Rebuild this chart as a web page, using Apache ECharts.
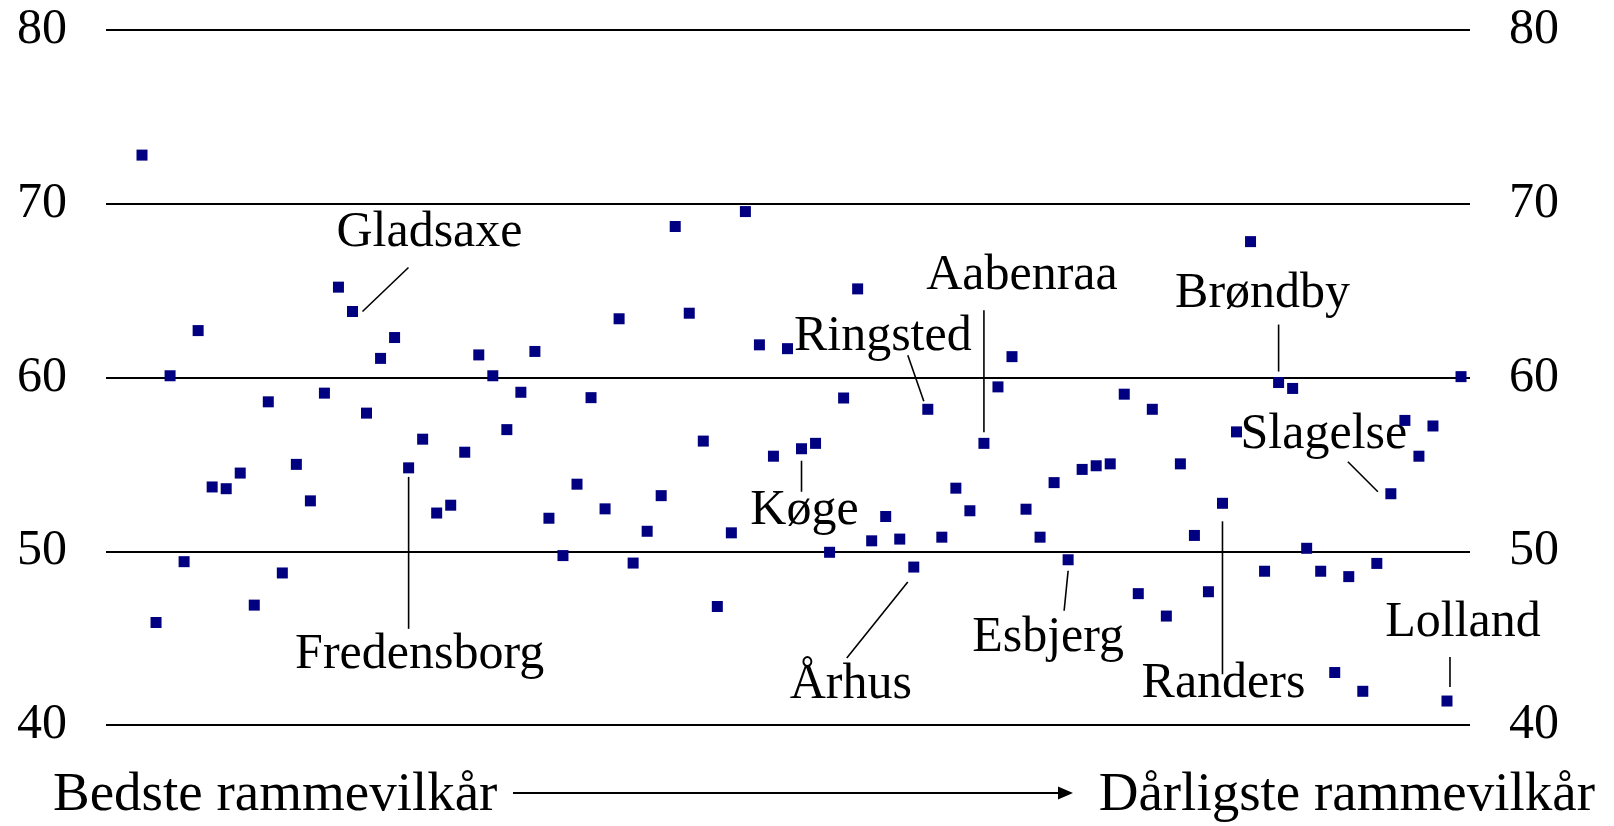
<!DOCTYPE html>
<html>
<head>
<meta charset="utf-8">
<script src="https://cdn.jsdelivr.net/npm/echarts@6/dist/echarts.min.js"></script>
<style>
  html, body { margin: 0; padding: 0; background: #fff; }
  #chart { width: 1614px; height: 826px; }
</style>
</head>
<body>
<div id="chart"></div>
<script>
// kommunernes indeks, sorteret fra bedste til dårligste rammevilkår
var values = [
  72.8, 45.9, 60.1, 49.4, 62.7, 53.7, 53.6, 54.5, 46.9, 58.6,
  48.75, 55.0, 52.9, 59.1, 65.2, 63.8, 57.95, 61.1, 62.3, 54.8,
  56.45, 52.2, 52.65, 55.7, 61.3, 60.1, 57.0, 59.15, 61.5, 51.9,
  49.75, 53.86, 58.84, 52.44, 63.38, 49.32, 51.15, 53.2, 68.69, 63.7,
  56.34, 46.82, 51.06, 69.55, 61.88, 55.47, 61.66, 55.9, 56.21, 49.94,
  58.82, 65.1, 50.6, 52.0, 50.7, 49.09, 58.17, 50.81, 53.63, 52.33,
  56.21, 59.46, 61.2, 52.42, 50.81, 53.95, 49.51, 54.71, 54.92, 55.03,
  59.04, 47.56, 58.17, 46.27, 55.03, 50.91, 47.67, 52.76, 56.87, 67.82,
  48.85, 59.71, 59.37, 50.17, 48.85, 43.02, 48.54, 41.94, 49.3, 53.31,
  57.53, 55.47, 57.21, 41.38, 60.05
];
var yTicks = [40, 50, 60, 70, 80];

// navngivne kommuner (rangplads i listen ovenfor)
var namedTowns = ['Gladsaxe', 'Fredensborg', 'Køge', 'Århus', 'Ringsted', 'Aabenraa',
  'Esbjerg', 'Randers', 'Brøndby', 'Slagelse', 'Lolland'];
var namedRanks = [16, 20, 48, 56, 57, 61, 67, 78, 82, 90, 94];

// placering af tekst og streg i forhold til punktet (px)
var labelPos = {
  'Gladsaxe':    {tx: 77,  ty: -79,  line: [10, 0, 56, -44]},
  'Fredensborg': {tx: 11,  ty: 187,  line: [0, 9, 0, 161]},
  'Køge':        {tx: 3,   ty: 62,   line: [0, 12, 0, 43]},
  'Århus':       {tx: -63, ty: 118,  line: [-6, 15, -67, 91]},
  'Ringsted':    {tx: -45, ty: -72,  line: [-4, -8, -20, -54]},
  'Aabenraa':    {tx: 38,  ty: -167, line: [0, -11, 0, -133]},
  'Esbjerg':     {tx: -20, ty: 78,   line: [0, 11, -4, 51]},
  'Randers':     {tx: 1,   ty: 181,  line: [0, 18, 0, 171]},
  'Brøndby':     {tx: -16, ty: -89,  line: [0, -11, 0, -58]},
  'Slagelse':    {tx: -67, ty: -59,  line: [-13, -2, -43, -32]},
  'Lolland':     {tx: 16,  ty: -78,  line: [3, -14, 3, -44]}
};

var FONT = 'Liberation Serif';

var points = values.map(function(v, i){ return [i + 1, v]; });

var chart = echarts.init(document.getElementById('chart'), null, {renderer: 'canvas'});

var yAxisBase = function(pos, showGrid){
  return {
    type: 'value',
    position: pos,
    min: yTicks[0],
    max: yTicks[yTicks.length - 1],
    interval: 10,
    axisLine: {show: false},
    axisTick: {show: false},
    splitLine: {show: showGrid, lineStyle: {color: '#000', width: 2}},
    axisLabel: {
      fontFamily: FONT,
      fontSize: 50,
      color: '#000',
      margin: 39
    }
  };
};

chart.setOption({
  animation: false,
  backgroundColor: '#fff',
  grid: {left: 106, right: 144, top: 30, bottom: 101},
  xAxis: {
    type: 'value',
    min: -1.566,
    max: 95.64,
    show: false
  },
  yAxis: [yAxisBase('left', true), yAxisBase('right', false)],
  series: [{
    type: 'scatter',
    symbol: 'rect',
    symbolSize: 11,
    itemStyle: {color: '#000080', opacity: 1},
    data: points
  }]
});

// annotationer bundet til punkternes pixelposition
var graphics = [];
namedTowns.forEach(function(name, k){
  var rank = namedRanks[k];
  var p = chart.convertToPixel({seriesIndex: 0}, [rank, values[rank - 1]]);
  var pos = labelPos[name];
  graphics.push({
    type: 'line',
    shape: {
      x1: p[0] + pos.line[0], y1: p[1] + pos.line[1],
      x2: p[0] + pos.line[2], y2: p[1] + pos.line[3]
    },
    style: {stroke: '#000', lineWidth: 1.6}
  });
  graphics.push({
    type: 'text',
    x: p[0] + pos.tx,
    y: p[1] + pos.ty,
    style: {
      text: name,
      fontFamily: FONT,
      fontSize: 50,
      fill: '#000',
      align: 'center',
      verticalAlign: 'middle'
    }
  });
});

// bund: retning fra bedste til dårligste
graphics.push({
  type: 'text', x: 53, y: 796,
  style: {text: 'Bedste rammevilkår', fontFamily: FONT, fontSize: 55, fill: '#000',
    align: 'left', verticalAlign: 'middle'}
});
graphics.push({
  type: 'text', x: 1595, y: 796,
  style: {text: 'Dårligste rammevilkår', fontFamily: FONT, fontSize: 55, fill: '#000',
    align: 'right', verticalAlign: 'middle'}
});
graphics.push({
  type: 'line',
  shape: {x1: 513, y1: 793, x2: 1060, y2: 793},
  style: {stroke: '#000', lineWidth: 2}
});
graphics.push({
  type: 'polygon',
  shape: {points: [[1058, 786.5], [1073, 793], [1058, 799.5]]},
  style: {fill: '#000'}
});

chart.setOption({graphic: graphics});
</script>
</body>
</html>
